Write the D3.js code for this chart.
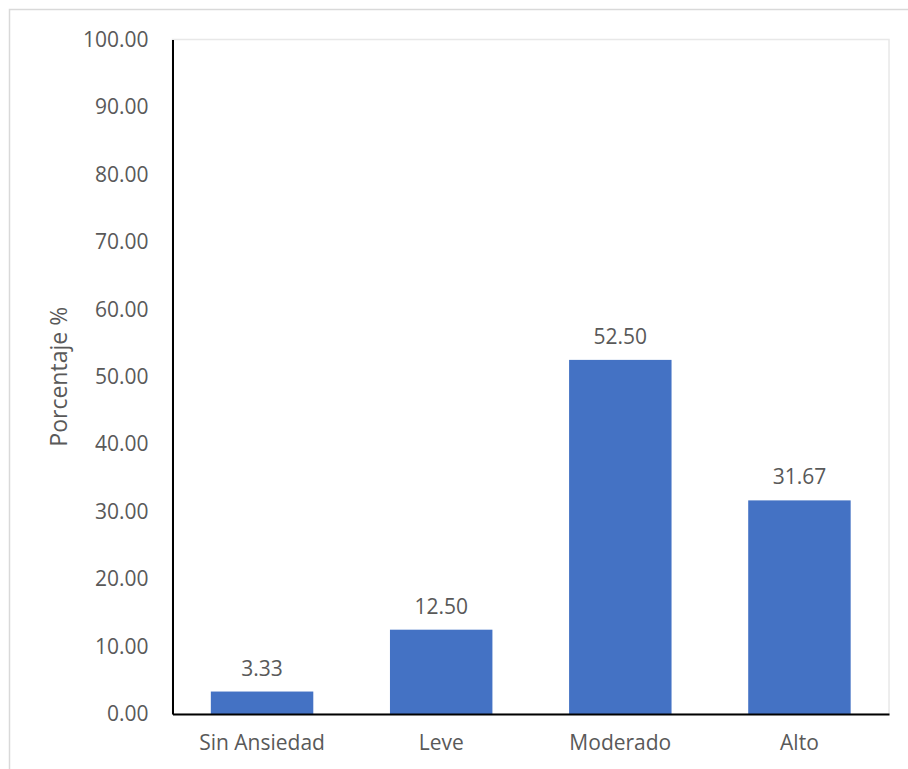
<!DOCTYPE html>
<html><head><meta charset="utf-8">
<script src="https://cdn.jsdelivr.net/npm/d3@7"></script>
<style>body{margin:0;background:#fff}svg{display:block}text{font-family:"Open Sans",sans-serif}</style>
</head><body>
<svg id="c" width="908" height="769"></svg>
<script>
const categories = ["Sin Ansiedad", "Leve", "Moderado", "Alto"];
const values = [3.33, 12.50, 52.50, 31.67];
const yTicks = [0, 10, 20, 30, 40, 50, 60, 70, 80, 90, 100];
const yLabel = "Porcentaje %";

const svg = d3.select("#c");
const m = {left: 172.5, right: 889, top: 39.5, bottom: 714};
const textColor = "#595959";

svg.append("rect").attr("x", 9.5).attr("y", 9.5).attr("width", 910).attr("height", 770)
  .attr("fill", "none").attr("stroke", "#d9d9d9").attr("stroke-width", 1.5);

const x = d3.scaleBand().domain(categories).range([m.left, m.right]).paddingInner(0.428).paddingOuter(0.214);
const y = d3.scaleLinear().domain([0, 100]).range([m.bottom, m.top]);

svg.append("rect").attr("x", m.left).attr("y", m.top).attr("width", m.right - m.left).attr("height", m.bottom - m.top)
  .attr("fill", "none").attr("stroke", "#e8e8e8").attr("stroke-width", 1.5);

svg.selectAll(".bar").data(values).join("rect")
  .attr("x", (d, i) => x(categories[i])).attr("width", x.bandwidth())
  .attr("y", d => y(d)).attr("height", d => y(0) - y(d)).attr("fill", "#4472C4");

svg.selectAll(".lbl").data(values).join("text")
  .attr("x", (d, i) => x(categories[i]) + x.bandwidth() / 2).attr("y", d => y(d) - 24)
  .attr("text-anchor", "middle").attr("dominant-baseline", "central")
  .attr("font-size", 21).attr("fill", textColor).text(d => d.toFixed(2));

const ya = svg.append("g").attr("transform", `translate(${m.left},0)`)
  .call(d3.axisLeft(y).tickValues(yTicks).tickSize(0).tickPadding(24).tickFormat(d => d.toFixed(2)));
ya.select(".domain").attr("stroke", "#000").attr("stroke-width", 2);
ya.selectAll("text").attr("font-size", 21).attr("fill", textColor).attr("font-family", "Open Sans");

const xa = svg.append("g").attr("transform", `translate(0,${m.bottom})`)
  .call(d3.axisBottom(x).tickSize(0).tickPadding(21));
xa.select(".domain").attr("stroke", "#000").attr("stroke-width", 2);
xa.selectAll("text").attr("font-size", 21).attr("fill", textColor).attr("font-family", "Open Sans");

svg.append("text").attr("transform", `translate(58,${(m.top + m.bottom) / 2}) rotate(-90)`)
  .attr("text-anchor", "middle").attr("dominant-baseline", "central")
  .attr("font-size", 23).attr("fill", textColor).text(yLabel);
</script>
</body></html>
